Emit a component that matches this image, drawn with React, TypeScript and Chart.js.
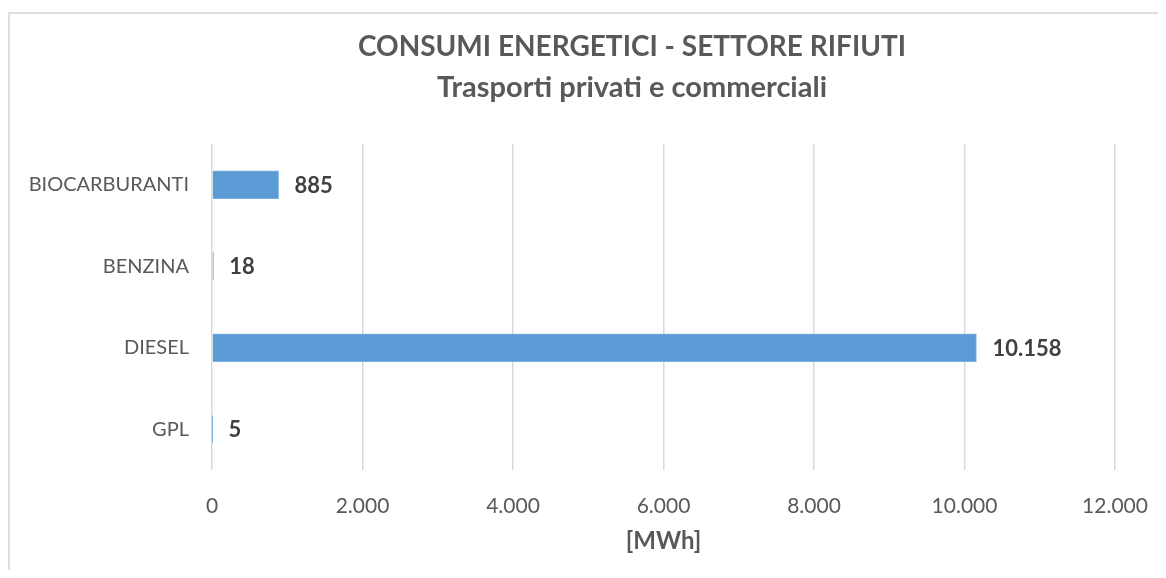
import React, { useEffect, useRef } from "react";
import { Chart, registerables } from "chart.js";

Chart.register(...registerables);

const titleLines = ["CONSUMI ENERGETICI - SETTORE RIFIUTI", "Trasporti privati e commerciali"];
const categories = ["BIOCARBURANTI", "BENZINA", "DIESEL", "GPL"];
const values = [885, 18, 10158, 5];
const xMin = 0;
const xMax = 12000;
const xStep = 2000;
const xAxisTitle = "[MWh]";

const FONT = "Lato";

function fmt(n: number): string {
  return String(Math.round(n)).replace(/\B(?=(\d{3})+(?!\d))/g, ".");
}

const titlePlugin = {
  id: "customTitle",
  afterDraw(chart: any) {
    const ctx = chart.ctx;
    ctx.save();
    ctx.fillStyle = "#595959";
    ctx.textAlign = "center";
    ctx.textBaseline = "middle";
    ctx.font = `bold 28px ${FONT}`;
    ctx.fillText(titleLines[0], 622, 33);
    ctx.font = `bold 29px ${FONT}`;
    ctx.fillText(titleLines[1], 622, 74);
    ctx.restore();
  },
};

const labelPlugin = {
  id: "valueLabels",
  afterDatasetsDraw(chart: any) {
    const ctx = chart.ctx;
    const meta = chart.getDatasetMeta(0);
    ctx.save();
    ctx.fillStyle = "#404040";
    ctx.font = `bold 22px ${FONT}`;
    ctx.textAlign = "left";
    ctx.textBaseline = "middle";
    meta.data.forEach((bar: any, i: number) => {
      ctx.fillText(fmt(values[i]), bar.x + 16, bar.y + 1);
    });
    ctx.restore();
  },
};

export default function App() {
  const ref = useRef<HTMLCanvasElement>(null);
  useEffect(() => {
    if (!ref.current) return;
    const chart = new Chart(ref.current, {
      type: "bar",
      data: {
        labels: categories,
        datasets: [
          {
            data: values,
            backgroundColor: "#5B9BD5",
            borderColor: "#7FB1DF",
            borderWidth: 1,
            barThickness: 28,
          },
        ],
      },
      options: {
        indexAxis: "y",
        responsive: false,
        animation: false,
        layout: { padding: { top: 130, right: 51, left: 0, bottom: 0 } },
        plugins: {
          legend: { display: false },
          tooltip: { enabled: false },
          title: { display: false },
        },
        scales: {
          x: {
            min: xMin,
            max: xMax,
            ticks: {
              stepSize: xStep,
              padding: 24,
              color: "#595959",
              font: { family: FONT, size: 21 },
              callback: (v: any) => fmt(Number(v)),
            },
            grid: { color: "#d9d9d9", lineWidth: 1.5, drawTicks: false },
            border: { display: false },
            title: {
              display: true,
              text: xAxisTitle,
              color: "#595959",
              font: { family: FONT, size: 24, weight: "bold" },
              padding: { top: 0, bottom: 14 },
            },
            afterFit: (s: any) => {
              s.height = 100;
              s.paddingLeft = 0;
              s.paddingRight = 0;
            },
          },
          y: {
            ticks: {
              padding: 23,
              color: "#595959",
              font: { family: FONT, size: 20 },
            },
            grid: { display: false, drawTicks: false },
            border: { display: false },
            afterFit: (s: any) => {
              s.width = 202;
            },
          },
        },
      },
      plugins: [titlePlugin, labelPlugin],
    });
    return () => chart.destroy();
  }, []);

  return (
    <div style={{ paddingTop: 4 }}>
      <div
        style={{
          width: 1158,
          height: 558,
          boxSizing: "border-box",
          borderTop: "2px solid #dedede",
          borderLeft: "2px solid #dedede",
          overflow: "hidden",
        }}
      >
        <canvas ref={ref} width={1156} height={556} style={{ display: "block" }} />
      </div>
    </div>
  );
}
